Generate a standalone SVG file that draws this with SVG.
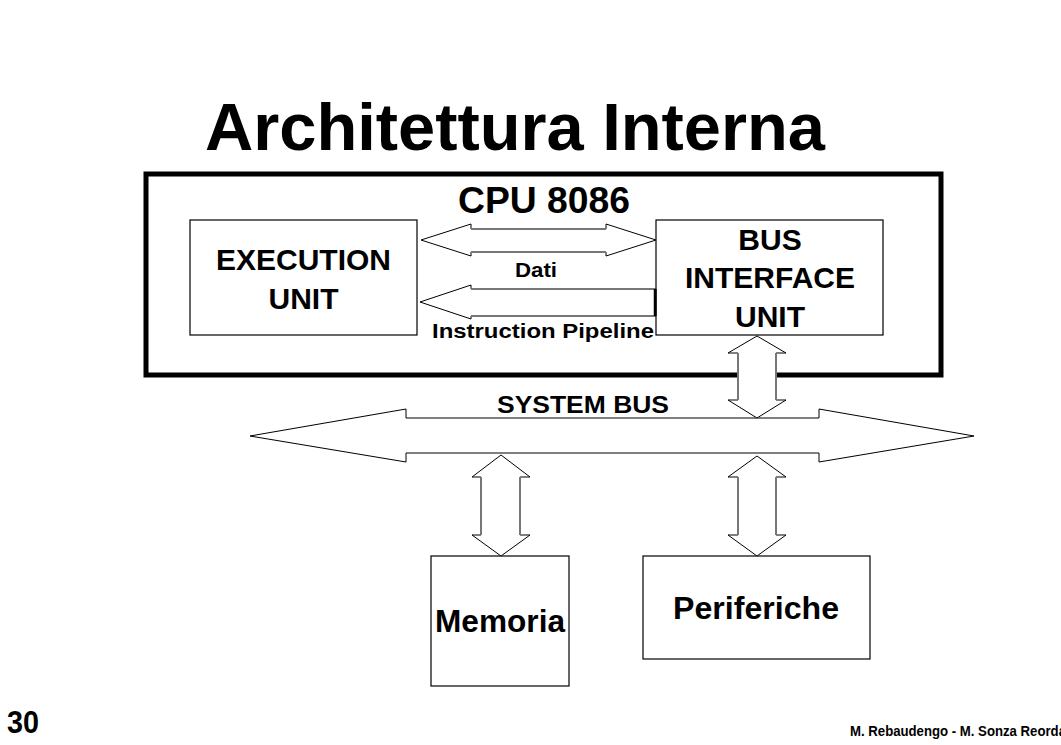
<svg xmlns="http://www.w3.org/2000/svg" width="1061" height="745" viewBox="0 0 1061 745">
<style>
text{font-family:"Liberation Sans",Arial,sans-serif;font-weight:bold;fill:#000}
.box{fill:#fff;stroke:#000;stroke-width:1.2}
.arr{fill:#fff;stroke:#000;stroke-width:1}
.shaft{stroke:#777;stroke-width:2;fill:none}
.c{text-anchor:middle}
</style>
<rect width="1061" height="745" fill="#fff"/>
<text x="205" y="150" font-size="66" textLength="620" lengthAdjust="spacingAndGlyphs">Architettura Interna</text>
<g id="cpu">
<rect x="146" y="174" width="795" height="201" fill="none" stroke="#000" stroke-width="5"/>
<text x="458" y="213" font-size="37" textLength="172" lengthAdjust="spacingAndGlyphs">CPU 8086</text>
</g>
<g id="execution-unit">
<rect class="box" x="190" y="220" width="227" height="115"/>
<text class="c" x="303.5" y="270" font-size="30">EXECUTION</text>
<text class="c" x="303.5" y="309" font-size="30">UNIT</text>
</g>
<g id="bus-interface-unit">
<rect class="box" x="656" y="220" width="227" height="115"/>
<text class="c" x="770" y="250" font-size="30">BUS</text>
<text class="c" x="770" y="288" font-size="30">INTERFACE</text>
<text class="c" x="770" y="327" font-size="30">UNIT</text>
</g>
<g id="memoria">
<rect class="box" x="431" y="556" width="138" height="130"/>
<text x="435" y="632" font-size="31" textLength="130" lengthAdjust="spacingAndGlyphs">Memoria</text>
</g>
<g id="periferiche">
<rect class="box" x="643" y="556" width="227" height="103"/>
<text x="673" y="619" font-size="31" textLength="166" lengthAdjust="spacingAndGlyphs">Periferiche</text>
</g>
<g id="connectors">
<g id="dati">
<polygon class="arr" points="421,240 471,224 471,229 606,229 606,224 656,240 606,256 606,252 471,252 471,256"/>
<path class="shaft" d="M471,229H606M471,252H606"/>
<text x="515" y="277" font-size="20" textLength="42" lengthAdjust="spacingAndGlyphs">Dati</text>
</g>
<g id="instruction-pipeline">
<polygon class="arr" points="420,302 471,285 471,289 656,289 656,316 471,316 471,319"/>
<path class="shaft" d="M471,289H655M471,316H655"/>
<path d="M655,289V316" stroke="#000" stroke-width="2.5"/>
<text x="432" y="338" font-size="20" textLength="222" lengthAdjust="spacingAndGlyphs">Instruction Pipeline</text>
</g>
<g id="system-bus">
<polygon class="arr" points="250,436 406,409 406,418 819,418 819,409 974,436 819,462 819,453 406,453 406,462"/>
<text x="497" y="413" font-size="24.5" textLength="172" lengthAdjust="spacingAndGlyphs">SYSTEM BUS</text>
</g>
<g id="biu-bus">
<polygon class="arr" points="757,336 786,353 776,353 776,400 786,400 757,418 728,400 738,400 738,353 728,353"/>
<path class="shaft" d="M738,353V400M776,353V400"/>
</g>
<g id="bus-memoria">
<polygon class="arr" points="501,455 530,477 520,477 520,535 530,535 501,556 472,535 481,535 481,477 472,477"/>
<path class="shaft" d="M481,477V535M520,477V535"/>
</g>
<g id="bus-periferiche">
<polygon class="arr" points="757,456 786,477 776,477 776,535 786,535 757,556 728,535 738,535 738,477 728,477"/>
<path class="shaft" d="M738,477V535M776,477V535"/>
</g>
</g>
<text x="7" y="733" font-size="31" textLength="32" lengthAdjust="spacingAndGlyphs">30</text>
<text x="850" y="736" font-size="14" textLength="216" lengthAdjust="spacingAndGlyphs">M. Rebaudengo  - M. Sonza Reorda</text>
</svg>
